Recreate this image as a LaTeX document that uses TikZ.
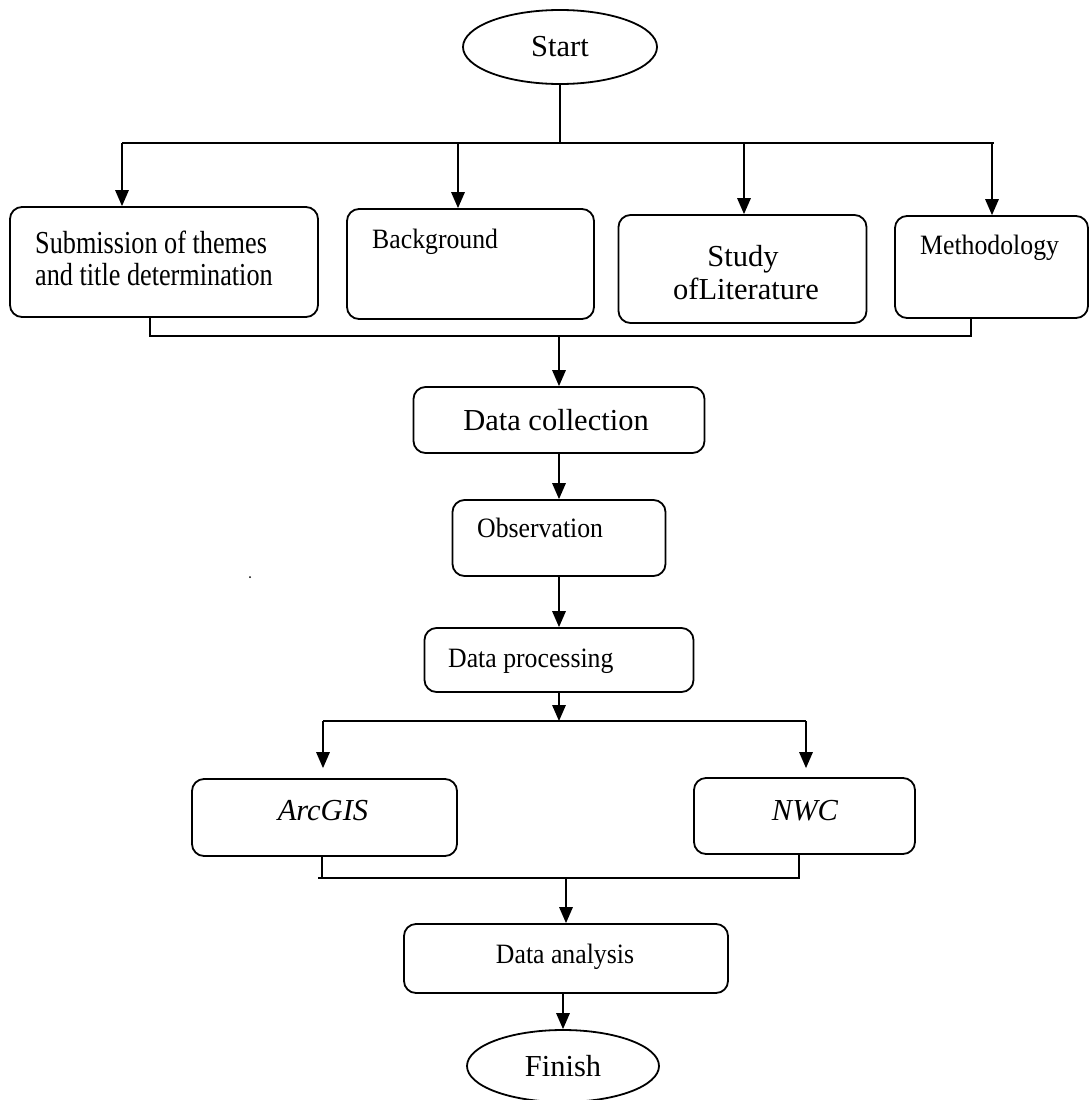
\documentclass[tikz,border=0pt]{standalone}
\usepackage{fontspec}
\setmainfont{Liberation Serif}
\newfontfamily\condA{Liberation Serif}[FakeStretch=0.82]
\newfontfamily\condB{Liberation Serif}[FakeStretch=0.92]
\usetikzlibrary{arrows.meta,shapes.geometric}
\newcommand\smallfnt{\condB\fontsize{28}{30}\selectfont}
\newcommand\subfnt{\condA\fontsize{32}{34}\selectfont}
\newcommand\bigfnt{\fontsize{30.5}{33}\selectfont}
\begin{document}
\begin{tikzpicture}[x=1pt,y=-1pt,
  conn/.style={line width=1.6pt},
  arr/.style={line width=1.6pt,-{Triangle[length=16pt,width=13.5pt]}},
  box/.style={draw,line width=1.8pt,rounded corners=12pt,inner sep=0pt},
  ell/.style={draw,ellipse,line width=1.8pt,inner sep=0pt},
  txt/.style={inner sep=0pt,font=\smallfnt},
  btxt/.style={inner sep=0pt,font=\bigfnt}]
\useasboundingbox (0,0) rectangle (1089,1100);
% nodes
\node[ell,minimum width=194pt,minimum height=74pt,font=\bigfnt] (start) at (560,47) {Start};
\node[box,minimum width=308pt,minimum height=110pt] (box1) at (164,262) {};
\node[box,minimum width=247pt,minimum height=110pt] (box2) at (470.5,264) {};
\node[box,minimum width=248pt,minimum height=108pt] (box3) at (742.5,269) {};
\node[box,minimum width=193pt,minimum height=102pt] (box4) at (991.5,267) {};
\node[box,minimum width=291pt,minimum height=66pt] (dc) at (559,420) {};
\node[box,minimum width=213pt,minimum height=76pt] (obs) at (559,538) {};
\node[box,minimum width=269pt,minimum height=64pt] (dp) at (559,660) {};
\node[box,minimum width=265pt,minimum height=77pt] (arc) at (324.5,817.5) {};
\node[box,minimum width=221pt,minimum height=76pt] (nwc) at (804.5,816) {};
\node[box,minimum width=324pt,minimum height=69pt] (da) at (566,958.5) {};
\node[ell,minimum width=192pt,minimum height=72pt,font=\bigfnt] (finish) at (563,1066) {Finish};
% texts
\node[inner sep=0pt,font=\subfnt,anchor=base west] (t1a) at (35,253) {Submission of themes};
\node[inner sep=0pt,font=\subfnt,anchor=base west] (t1b) at (35,285) {and title determination};
\node[txt,anchor=base west] (t2) at (372,248) {Background};
\node[btxt,anchor=base] (t3a) at (743,266) {Study};
\node[btxt,anchor=base] (t3b) at (746,299) {ofLiterature};
\node[txt,anchor=base west] (t4) at (920,254) {Methodology};
\node[btxt,anchor=base] (tdc) at (556,430) {Data collection};
\node[txt,anchor=base west] (tobs) at (477,537) {Observation};
\node[txt,anchor=base west] (tdp) at (448,667) {Data processing};
\node[btxt,anchor=base] (tarc) at (323,820) {\itshape ArcGIS};
\node[btxt,anchor=base] (tnwc) at (805,820) {\itshape NWC};
\node[txt,anchor=base] (tda) at (565,963) {Data analysis};
\node[circle,fill,inner sep=0pt,minimum size=2pt] (dot) at (250,577) {};
% top distribution bar
\coordinate (tbL) at (122,143);
\coordinate (tbR) at (994,143);
\coordinate (a2) at (458,143);
\coordinate (a3) at (744,143);
\coordinate (a4) at (992,143);
\draw[conn] (start.south) -- (start.south |- tbL);
\draw[conn] (tbL) -- (tbR);
\draw[arr] (tbL) -- (tbL |- box1.north);
\draw[arr] (a2) -- (a2 |- box2.north);
\draw[arr] (a3) -- (a3 |- box3.north);
\draw[arr] (a4) -- (a4 |- box4.north);
% collecting bar
\coordinate (mbL) at (150,336);
\coordinate (mbR) at (971,336);
\coordinate (mbM) at (559,336);
\draw[conn] (mbL |- box1.south) -- (mbL) -- (mbR) -- (mbR |- box4.south);
\draw[arr] (mbM) -- (dc.north);
\draw[arr] (dc.south) -- (obs.north);
\draw[arr] (obs.south) -- (dp.north);
% processing split
\coordinate (pbM) at (559,721);
\coordinate (pbL) at (323,721);
\coordinate (pbR) at (806,721);
\draw[arr] (dp.south) -- (pbM);
\draw[conn] (pbL) -- (pbR);
\draw[arr,shorten >=10pt] (pbL) -- (pbL |- arc.north);
\draw[arr,shorten >=9pt] (pbR) -- (pbR |- nwc.north);
% join bar
\coordinate (qbL) at (322,878);
\coordinate (qbLL) at (318,878);
\coordinate (qbR) at (799,878);
\coordinate (qbM) at (566,878);
\draw[conn] (qbL |- arc.south) -- (qbL);
\draw[conn] (qbLL) -- (qbR) -- (qbR |- nwc.south);
\draw[arr] (qbM) -- (qbM |- da.north);
\draw[arr] (finish.north |- da.south) -- (finish.north);
\end{tikzpicture}
\end{document}
